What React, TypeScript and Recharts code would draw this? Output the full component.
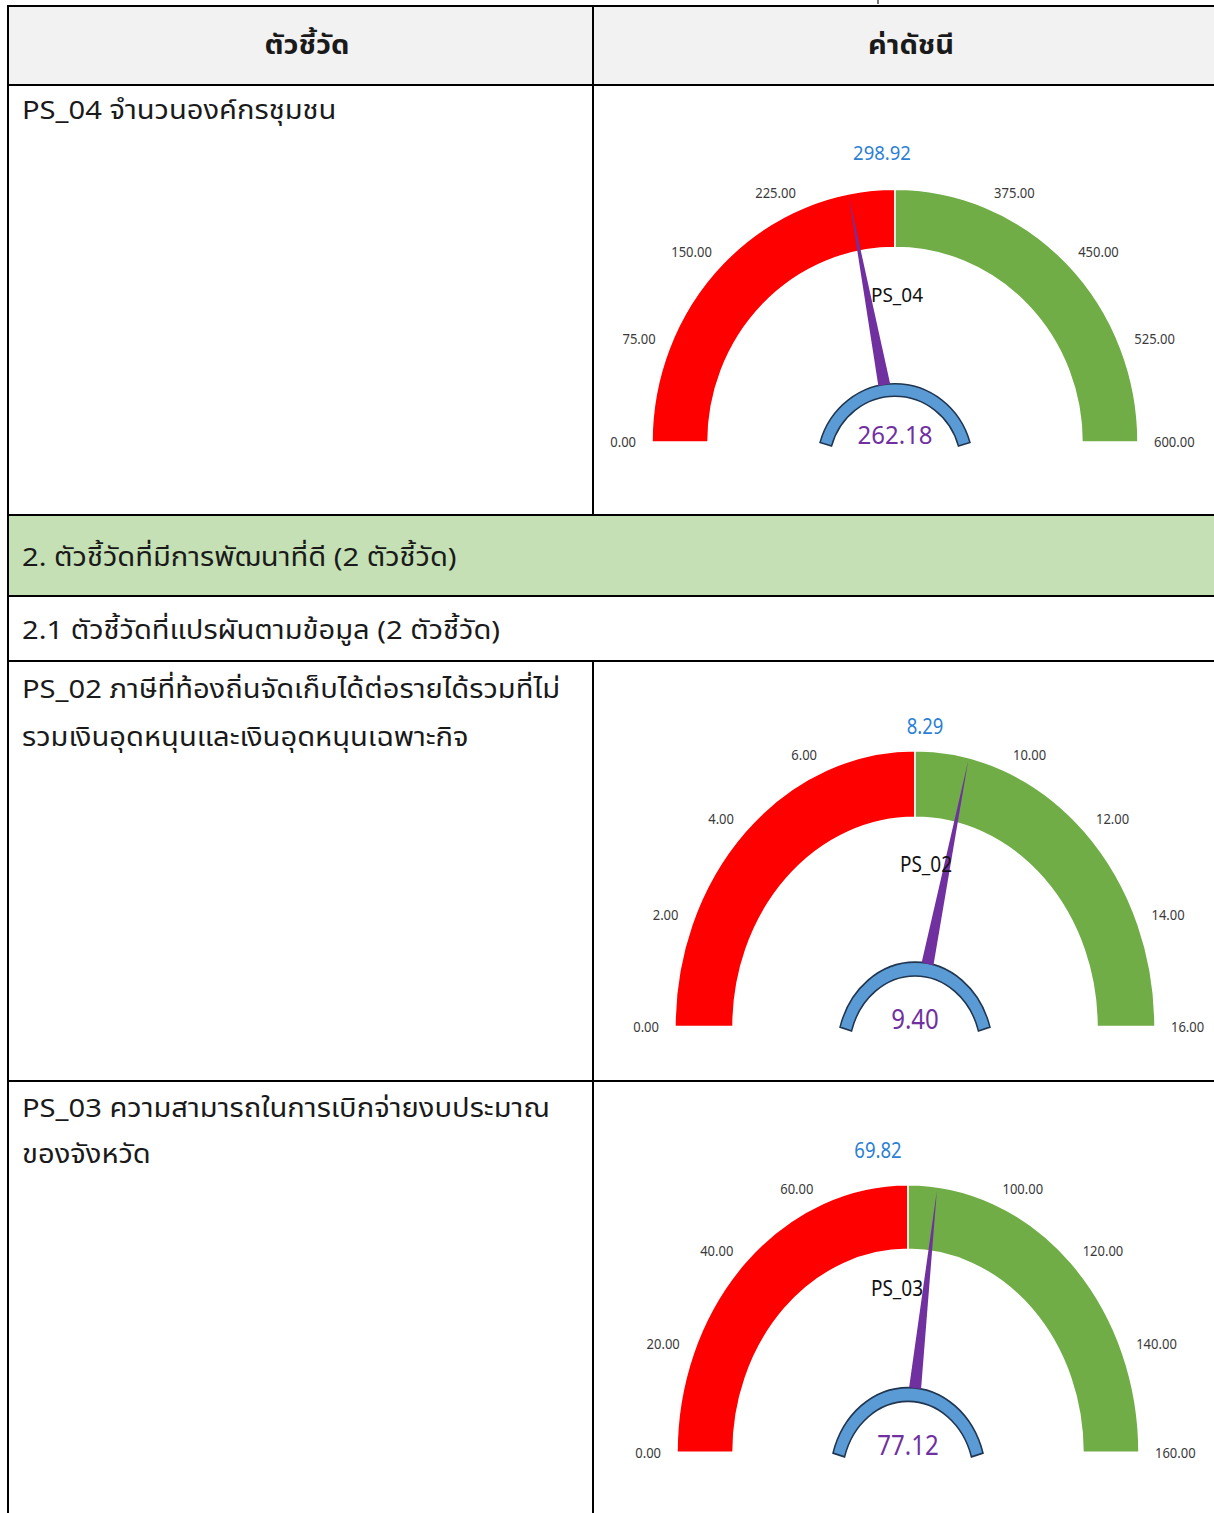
import React from 'react'
import { PieChart, Pie } from 'recharts'

// gauge data
const gaugeNames = ['PS_04', 'PS_02', 'PS_03']
const gaugeValues = [262.18, 9.4, 77.12]
const gaugeThresholds = [298.92, 8.29, 69.82]
const gaugeTicks = [
  [0, 75, 150, 225, 375, 450, 525, 600],
  [0, 2, 4, 6, 10, 12, 14, 16],
  [0, 20, 40, 60, 100, 120, 140, 160],
]

// table text
const headers = ['ตัวชี้วัด', 'ค่าดัชนี']
const rowPS04 = ['PS_04 จำนวนองค์กรชุมชน']
const groupTitle = '2. ตัวชี้วัดที่มีการพัฒนาที่ดี (2 ตัวชี้วัด)'
const subTitle = '2.1 ตัวชี้วัดที่แปรผันตามข้อมูล (2 ตัวชี้วัด)'
const rowPS02 = ['PS_02 ภาษีที่ท้องถิ่นจัดเก็บได้ต่อรายได้รวมที่ไม่', 'รวมเงินอุดหนุนและเงินอุดหนุนเฉพาะกิจ']
const rowPS03 = ['PS_03 ความสามารถในการเบิกจ่ายงบประมาณ', 'ของจังหวัด']

// layout of each gauge inside the right column
const layouts = [
  { top: 130, height: 330, cx: 301, cy: 300, sy: 1.04, outer: 243, inner: 187, thrDx: -13, thrDy: 278, nameDx: 2 },
  { top: 700, height: 300, cx: 321, cy: 284, sy: 1.15, outer: 240, inner: 182, thrDx: 10, thrDy: 261, nameDx: 11 },
  { top: 1130, height: 290, cx: 314, cy: 278, sy: 1.16, outer: 231, inner: 175, thrDx: -30, thrDy: 261, nameDx: -11 },
]

const gaugeFont = '"Noto Sans", "Open Sans", sans-serif'
const thaiFont = '"Noto Sans Thai", "Noto Sans", "DejaVu Sans", sans-serif'
const RAD = Math.PI / 180

function Gauge({ i }: { i: number }) {
  const L = layouts[i]
  const ticks = gaugeTicks[i]
  const max = ticks[ticks.length - 1]
  const thr = gaugeThresholds[i]
  const val = gaugeValues[i]
  const tickSegs = ticks.slice(1).map((t, k) => ({ from: ticks[k], to: t, size: t - ticks[k] }))
  const inRed = val < thr
  const needleData = inRed ? [{ v: val }, { v: thr - val }] : [{ v: val - thr }, { v: max - val }]

  const tickText = (cx: number, cy: number, angle: number, text: number, key: string) => {
    const r = L.outer + 16
    const c = Math.cos(angle * RAD)
    const x = cx + r * c
    const y = cy - r * Math.sin(angle * RAD)
    const anchor = c < -0.2 ? 'end' : c > 0.2 ? 'start' : 'middle'
    return (
      <text key={key} x={x} y={y} textAnchor={anchor} dominantBaseline="central" fontSize={13} fill="#3a3a3a" fontFamily={gaugeFont}>
        {text.toFixed(2)}
      </text>
    )
  }

  const renderTick = (p: any) => {
    const k = p.index
    const seg = tickSegs[k]
    return (
      <g key={`t${k}`}>
        {tickText(p.cx, p.cy, p.startAngle, seg.from, 's')}
        {k === tickSegs.length - 1 && tickText(p.cx, p.cy, p.endAngle, seg.to, 'e')}
      </g>
    )
  }

  const renderNeedle = (p: any) => {
    if (p.index !== 0) return <g key="n1" />
    const a = p.endAngle * RAD
    const dx = Math.cos(a)
    const dy = -Math.sin(a)
    const tipR = L.outer - 3
    const baseR = 56
    const bx = p.cx + baseR * dx
    const by = p.cy + baseR * dy
    const px = -dy * 6
    const py = dx * 6
    const pts = `${bx + px},${by + py} ${p.cx + tipR * dx},${p.cy + tipR * dy} ${bx - px},${by - py}`
    return <polygon key="n0" points={pts} fill="#7030a0" />
  }

  const renderCenter = () => (
    <g key="c">
      <text x={L.cx} y={L.cy - 7} textAnchor="middle" dominantBaseline="central" fontSize={24} fill="#7030a0" fontFamily={gaugeFont}>
        {val.toFixed(2)}
      </text>
      <text x={L.cx + L.nameDx} y={L.cy - 142} textAnchor="middle" dominantBaseline="central" fontSize={19} fill="#111" fontFamily={gaugeFont}>
        {gaugeNames[i]}
      </text>
      <text x={L.cx + L.thrDx} y={L.cy - L.thrDy} textAnchor="middle" dominantBaseline="central" fontSize={18.5} fill="#2b7fd4" fontFamily={gaugeFont}>
        {thr.toFixed(2)}
      </text>
    </g>
  )

  return (
    <div
      style={{
        position: 'absolute',
        left: 594,
        top: L.top,
        width: 620,
        height: L.height,
        transform: `scaleY(${L.sy})`,
        transformOrigin: 'top left',
      }}
    >
      <PieChart width={620} height={L.height} margin={{ top: 0, right: 0, bottom: 0, left: 0 }}>
        <Pie data={[{ v: thr }]} dataKey="v" cx={L.cx} cy={L.cy} startAngle={180} endAngle={90}
          innerRadius={L.inner} outerRadius={L.outer} fill="#ff0000" stroke="#ffffff" strokeWidth={1.5} isAnimationActive={false} />
        <Pie data={[{ v: max - thr }]} dataKey="v" cx={L.cx} cy={L.cy} startAngle={90} endAngle={0}
          innerRadius={L.inner} outerRadius={L.outer} fill="#70ad47" stroke="#ffffff" strokeWidth={1.5} isAnimationActive={false} />
        <Pie data={tickSegs} dataKey="size" cx={L.cx} cy={L.cy} startAngle={180} endAngle={0}
          innerRadius={0} outerRadius={L.outer} fill="none" stroke="none" label={renderTick} labelLine={false} isAnimationActive={false} />
        <Pie data={needleData} dataKey="v" cx={L.cx} cy={L.cy} startAngle={inRed ? 180 : 90} endAngle={inRed ? 90 : 0}
          innerRadius={0} outerRadius={L.outer} fill="none" stroke="none" label={renderNeedle} labelLine={false} isAnimationActive={false} />
        <Pie data={[{ v: val }]} dataKey="v" cx={L.cx} cy={L.cy + 22} startAngle={164} endAngle={16}
          innerRadius={66} outerRadius={78} fill="#5b9bd5" stroke="#1f3550" strokeWidth={1.5}
          label={renderCenter} labelLine={false} isAnimationActive={false} />
      </PieChart>
    </div>
  )
}

const line = (x: number, y: number, w: number, h: number, key: string) => (
  <div key={key} style={{ position: 'absolute', left: x, top: y, width: w, height: h, background: '#000' }} />
)

const textStyle = (x: number, y: number, extra: any = {}) => ({
  position: 'absolute' as const,
  left: x,
  top: y,
  fontFamily: thaiFont,
  fontSize: 26,
  lineHeight: '48px',
  color: '#1a1a1a',
  whiteSpace: 'nowrap' as const,
  transform: 'scaleX(1.12)',
  transformOrigin: 'left center',
  ...extra,
})

export default function App() {
  return (
    <div style={{ position: 'absolute', left: 0, top: 0, width: 1214, height: 1513, overflow: 'hidden', background: '#fff' }}>
      {/* backgrounds */}
      <div style={{ position: 'absolute', left: 8, top: 6, width: 1206, height: 79, background: '#f2f2f2' }} />
      <div style={{ position: 'absolute', left: 8, top: 515, width: 1206, height: 81, background: '#c5e0b4' }} />
      <div style={{ position: 'absolute', left: 877, top: 0, width: 2, height: 4, background: '#777' }} />

      {/* header */}
      <div style={textStyle(107, 22, { width: 400, textAlign: 'center', fontWeight: 700, transformOrigin: 'center' })}>{headers[0]}</div>
      <div style={textStyle(711, 22, { width: 400, textAlign: 'center', fontWeight: 700, transformOrigin: 'center' })}>{headers[1]}</div>

      {/* left column texts */}
      <div style={textStyle(22, 87)}>{rowPS04[0]}</div>
      <div style={textStyle(22, 534)}>{groupTitle}</div>
      <div style={textStyle(22, 607)}>{subTitle}</div>
      <div style={textStyle(22, 666)}>
        {rowPS02.map((t) => <div key={t}>{t}</div>)}
      </div>
      <div style={textStyle(22, 1086, { lineHeight: '46px' })}>
        {rowPS03.map((t) => <div key={t}>{t}</div>)}
      </div>

      {/* gauges */}
      {layouts.map((_, i) => <Gauge key={i} i={i} />)}

      {/* grid lines */}
      {[5, 84, 514, 595, 660, 1080].map((y, k) => line(7, y, 1207, 2, `h${k}`))}
      {line(7, 5, 2, 1508, 'v0')}
      {line(592, 5, 2, 510, 'v1')}
      {line(592, 660, 2, 853, 'v2')}
    </div>
  )
}
